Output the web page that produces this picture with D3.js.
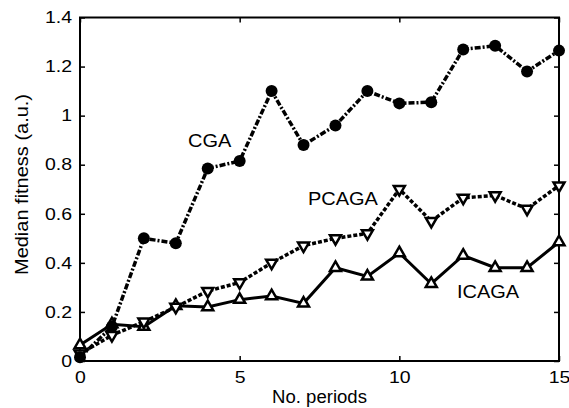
<!DOCTYPE html>
<html>
<head>
  <meta charset="utf-8">
  <title>Median fitness</title>
  <script src="https://d3js.org/d3.v7.min.js"></script>
  <style>
    body { margin: 0; background: white; }
    text { font-family: "Liberation Sans", Arial, sans-serif; fill: black; }
  </style>
</head>
<body>
<div id="container"></div>
<script>
  // data
  var periods = [0, 1, 2, 3, 4, 5, 6, 7, 8, 9, 10, 11, 12, 13, 14, 15];
  var cga   = [0.015, 0.14, 0.50, 0.48, 0.785, 0.815, 1.10, 0.88, 0.96, 1.10, 1.05, 1.055, 1.27, 1.285, 1.18, 1.265];
  var pcaga = [0.03, 0.105, 0.16, 0.22, 0.285, 0.32, 0.40, 0.47, 0.50, 0.52, 0.70, 0.57, 0.665, 0.675, 0.62, 0.715];
  var icaga = [0.065, 0.15, 0.14, 0.225, 0.22, 0.25, 0.265, 0.235, 0.38, 0.345, 0.44, 0.315, 0.43, 0.38, 0.38, 0.485];
  var xTicks = [0, 5, 10, 15];
  var yTicks = [0, 0.2, 0.4, 0.6, 0.8, 1, 1.2, 1.4];

  const width = 569, height = 408;
  const margin = { top: 17.5, right: 10, bottom: 47, left: 80 };

  var svg = d3.select("#container").append("svg")
    .attr("width", width)
    .attr("height", height)
    .style("display", "block");

  var x = d3.scaleLinear().domain([0, 15]).range([margin.left, width - margin.right]);
  var y = d3.scaleLinear().domain([0, 1.4]).range([height - margin.bottom, margin.top]);

  // the original figure's lettering is a bit wider than Liberation Sans
  function stretch(sel, k) {
    sel.each(function() {
      var w = this.getComputedTextLength();
      d3.select(this).attr("textLength", w * k).attr("lengthAdjust", "spacingAndGlyphs");
    });
  }

  function styleAxis(g) {
    g.select(".domain").remove();
    g.selectAll(".tick line").attr("stroke", "black").attr("stroke-width", 1.5);
    g.selectAll(".tick text").attr("font-size", 16.5).attr("fill", "black")
      .attr("font-family", "Liberation Sans, Arial, sans-serif");
  }

  // ticks pointing inwards on all four sides
  var gx = svg.append("g").attr("transform", "translate(0," + y(0) + ")")
    .call(d3.axisBottom(x).tickValues(xTicks).tickSize(-5).tickPadding(10).tickFormat(d3.format("d")))
    .call(styleAxis);
  svg.append("g").attr("transform", "translate(0," + y(1.4) + ")")
    .call(d3.axisTop(x).tickValues(xTicks).tickSize(-5).tickFormat(""))
    .call(styleAxis);
  var gy = svg.append("g").attr("transform", "translate(" + x(0) + ",0)")
    .call(d3.axisLeft(y).tickValues(yTicks).tickSize(-5).tickPadding(8).tickFormat(d3.format("~g")))
    .call(styleAxis);
  svg.append("g").attr("transform", "translate(" + x(15) + ",0)")
    .call(d3.axisRight(y).tickValues(yTicks).tickSize(-5).tickFormat(""))
    .call(styleAxis);
  stretch(gx.selectAll(".tick text"), 1.18);
  stretch(gy.selectAll(".tick text"), 1.18);

  svg.append("rect")
    .attr("x", x(0)).attr("y", y(1.4))
    .attr("width", x(15) - x(0)).attr("height", y(0) - y(1.4))
    .attr("fill", "none").attr("stroke", "black").attr("stroke-width", 2);

  var line = d3.line().x(function(d, i) { return x(periods[i]); }).y(function(d) { return y(d); });

  // ICAGA: solid, open up-triangles
  svg.append("path").datum(icaga).attr("d", line)
    .attr("fill", "none").attr("stroke", "black").attr("stroke-width", 3);
  // PCAGA: dashed, open down-triangles
  svg.append("path").datum(pcaga).attr("d", line)
    .attr("fill", "none").attr("stroke", "black").attr("stroke-width", 3.5)
    .attr("stroke-dasharray", "4,2");
  // CGA: dash-dot, filled circles
  svg.append("path").datum(cga).attr("d", line)
    .attr("fill", "none").attr("stroke", "black").attr("stroke-width", 3.5)
    .attr("stroke-dasharray", "6,2,2,2");

  var tri = d3.symbol().type(d3.symbolTriangle).size(52);

  svg.selectAll(".up").data(icaga).enter().append("path")
    .attr("d", tri)
    .attr("transform", function(d, i) { return "translate(" + x(periods[i]) + "," + y(d) + ")"; })
    .attr("fill", "white").attr("stroke", "black").attr("stroke-width", 2.5);

  svg.selectAll(".down").data(pcaga).enter().append("path")
    .attr("d", tri)
    .attr("transform", function(d, i) { return "translate(" + x(periods[i]) + "," + y(d) + ") rotate(180)"; })
    .attr("fill", "white").attr("stroke", "black").attr("stroke-width", 2.5);

  svg.selectAll(".dot").data(cga).enter().append("circle")
    .attr("cx", function(d, i) { return x(periods[i]); })
    .attr("cy", function(d) { return y(d); })
    .attr("r", 6).attr("fill", "black");

  // series labels
  var lab = svg.append("g").attr("font-size", 18.5);
  lab.append("text").attr("x", 188).attr("y", 147).text("CGA");
  lab.append("text").attr("x", 308).attr("y", 205).text("PCAGA");
  lab.append("text").attr("x", 457).attr("y", 298).text("ICAGA");
  stretch(lab.selectAll("text"), 1.08);

  // axis titles
  var tx = svg.append("text").attr("x", (x(0) + x(15)) / 2).attr("y", 403)
    .attr("text-anchor", "middle").attr("font-size", 17.5).text("No. periods");
  var ty = svg.append("text")
    .attr("transform", "translate(28," + 184.5 + ") rotate(-90)")
    .attr("text-anchor", "middle").attr("font-size", 18.5).text("Median fitness (a.u.)");
  stretch(tx, 1.06);
  stretch(ty, 1.08);
</script>
</body>
</html>
